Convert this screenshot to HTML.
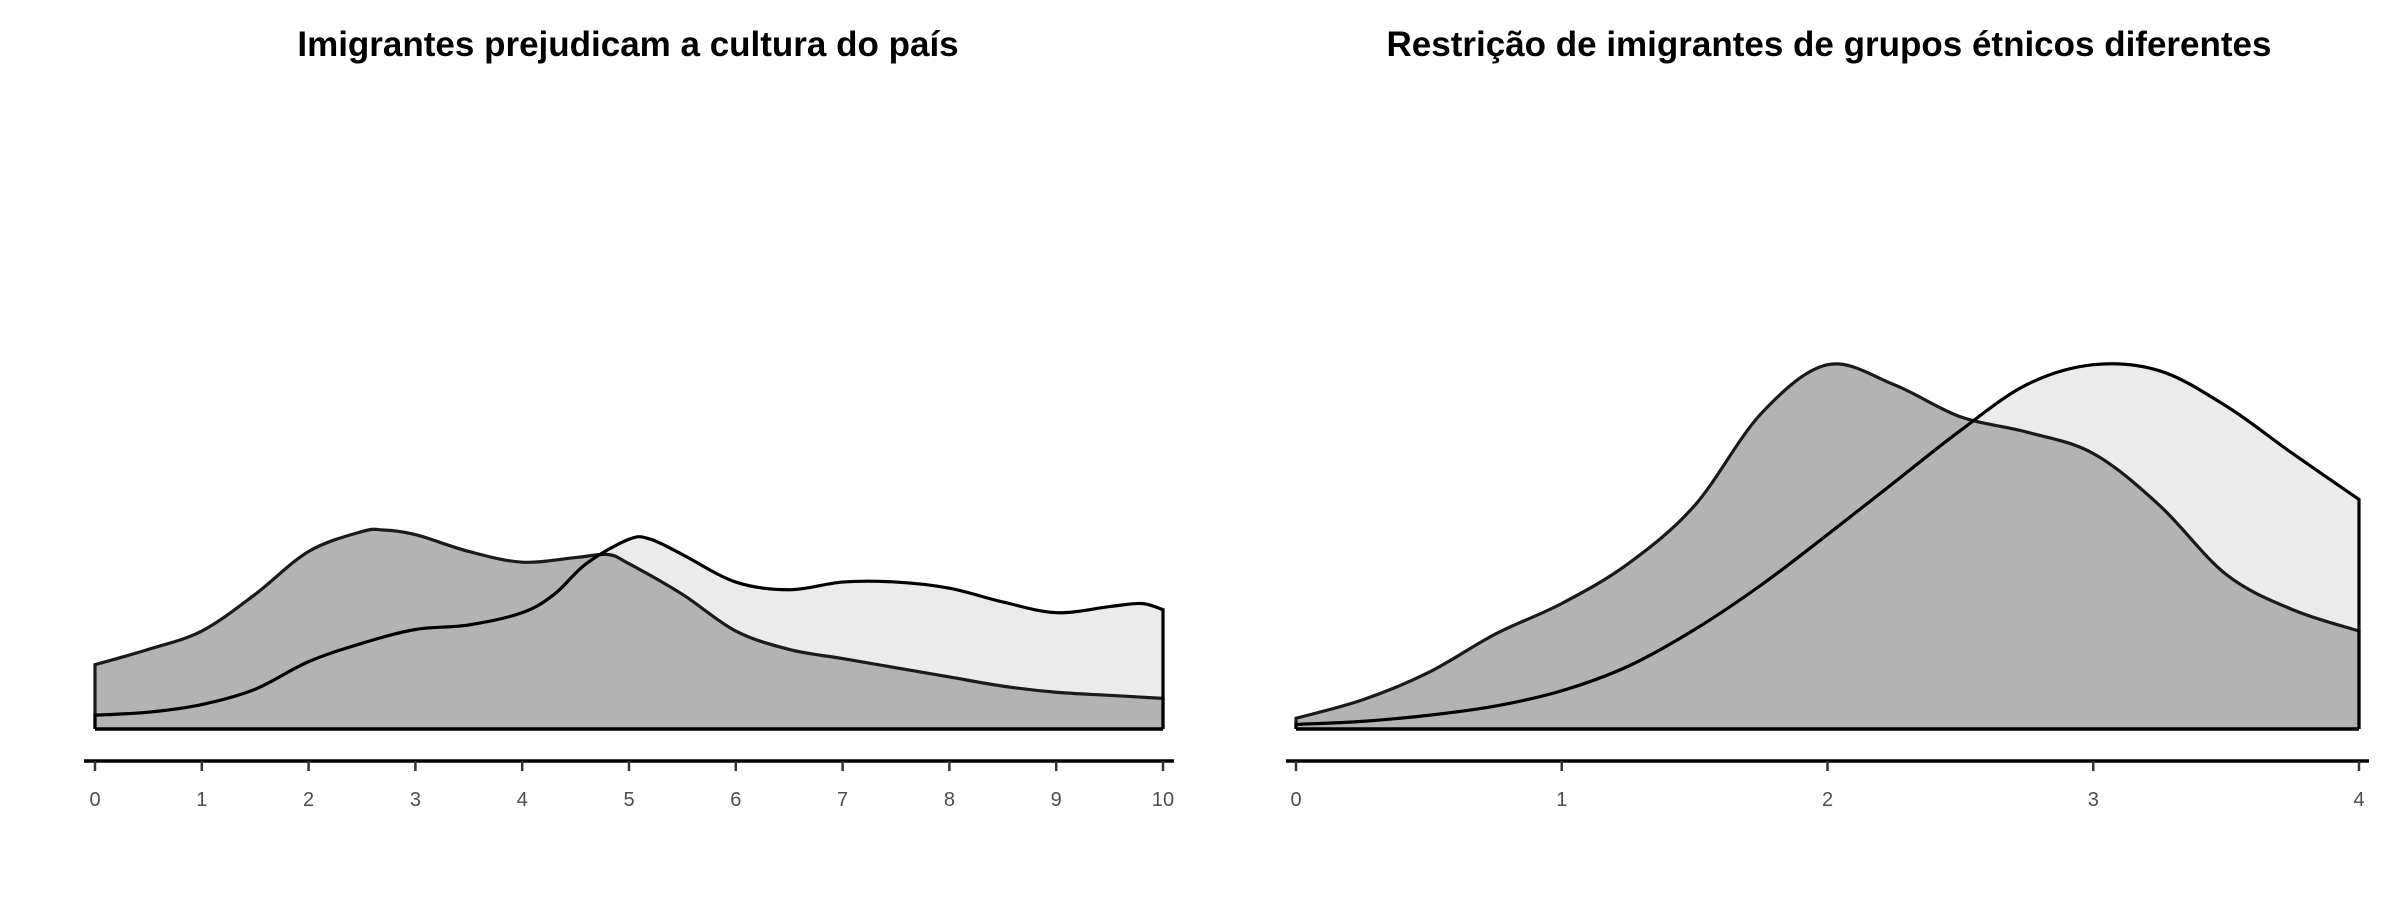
<!DOCTYPE html>
<html><head><meta charset="utf-8"><style>
html,body{margin:0;padding:0;background:#fff;}
svg{display:block;font-family:"Liberation Sans",sans-serif;}
</style></head><body>
<svg id="chart" width="2400" height="900" viewBox="0 0 2400 900">
<text x="628" y="56" text-anchor="middle" font-size="35" font-weight="bold">Imigrantes prejudicam a cultura do país</text>
<text x="1829" y="56" text-anchor="middle" font-size="35" font-weight="bold">Restrição de imigrantes de grupos étnicos diferentes</text>
</svg>
<script>
// Left panel data (x 0..10), heights relative to shared scale (239 = max)
const leftX = [0,0.5,1,1.5,2,2.5,3,3.5,4,4.3,4.6,5,5.2,5.5,6,6.5,7,7.5,8,8.5,9,9.5,9.8,10];
const leftLight = [9,11,16,26,44,56,65,68,76,88,108,124,124,114,96,91,96,96,92,83,76,80,82,78];
const leftDarkX = [0,0.5,1,1.5,2,2.5,2.7,3,3.5,4,4.5,4.8,5,5.5,6,6.5,7,7.5,8,8.5,9,9.5,10];
const leftDark = [42,52,64,88,116,129,130,127,116,109,112,114,108,88,64,52,46,40,34,28,24,22,20];
const leftTicks = [0,1,2,3,4,5,6,7,8,9,10];
// Right panel data (x 0..4)
const rightX = [0,0.25,0.5,0.75,1,1.25,1.5,1.75,2,2.25,2.5,2.75,3,3.25,3.5,3.75,4];
const rightLight = [3,5,9,15,25,41,65,94,127,161,195,225,238,234,211,180,150];
const rightDark = [7,19,37,62,82,108,146,206,238,225,204,194,180,146,101,78,64];
const rightTicks = [0,1,2,3,4];
const yMax = 239;

const svg = document.getElementById('chart');
const NS = 'http://www.w3.org/2000/svg';
const baseY = 729, plotH = 239*1.5306;
function yScale(v){ return baseY - v/yMax*plotH; }

function smoothPath(pts){
  let d = 'M'+pts[0][0]+','+pts[0][1];
  for(let i=0;i<pts.length-1;i++){
    const p0=pts[Math.max(0,i-1)],p1=pts[i],p2=pts[i+1],p3=pts[Math.min(pts.length-1,i+2)];
    const c1x=p1[0]+(p2[0]-p0[0])/6,c1y=p1[1]+(p2[1]-p0[1])/6;
    const c2x=p2[0]-(p3[0]-p1[0])/6,c2y=p2[1]-(p3[1]-p1[1])/6;
    d+=' C'+c1x+','+c1y+' '+c2x+','+c2y+' '+p2[0]+','+p2[1];
  }
  return d;
}
function add(tag, attrs){
  const el=document.createElementNS(NS,tag);
  for(const k in attrs) el.setAttribute(k,attrs[k]);
  svg.appendChild(el); return el;
}
function panel(name, xs1, v1, xs2, v2, ticks, x0, x1, dmin, dmax, axL, axR){
  const xScale = x => x0 + (x-dmin)/(dmax-dmin)*(x1-x0);
  const p1 = xs1.map((x,i)=>[xScale(x),yScale(v1[i])]);
  const p2 = xs2.map((x,i)=>[xScale(x),yScale(v2[i])]);
  const c1 = smoothPath(p1), c2 = smoothPath(p2);
  const area = (c,p)=> c+' L'+p[p.length-1][0]+','+baseY+' L'+p[0][0]+','+baseY+' Z';
  let el;
  el = add('path',{d:area(c1,p1),fill:'#ebebeb',stroke:'none'});
  
  
  el = add('path',{d:area(c2,p2),fill:'#b3b3b3',stroke:'none'});
  
  
  el = add('path',{d:'M'+p2[0][0]+','+baseY+' L'+p2[0][0]+','+p2[0][1]+' '+c2.replace(/^M[^C]*/,'')+' L'+p2[p2.length-1][0]+','+baseY,fill:'none',stroke:'#1a1a1a',"stroke-width":3.2});
  
  
  el = add('path',{d:'M'+p1[0][0]+','+baseY+' L'+p1[0][0]+','+p1[0][1]+' '+c1.replace(/^M[^C]*/,'')+' L'+p1[p1.length-1][0]+','+baseY,fill:'none',stroke:'#000',"stroke-width":3.2});
  
  
  el = add('line',{x1:x0,x2:x1,y1:baseY,y2:baseY,stroke:'#000',"stroke-width":3.5});
  
  
  el = add('line',{x1:axL,x2:axR,y1:761,y2:761,stroke:'#000',"stroke-width":3.5});
  
  
  ticks.forEach(t=>{
    const tx=xScale(t);
    el = add('line',{x1:tx,x2:tx,y1:761,y2:771,stroke:'#333',"stroke-width":2.5});
    
    
    el = add('text',{x:tx,y:806,"text-anchor":"middle","font-size":20,fill:'#4d4d4d'});
    el.textContent = t;
    
    
  });
}
panel('left', leftX, leftLight, leftDarkX, leftDark, leftTicks, 95, 1163, 0, 10, 84, 1174);
panel('right', rightX, rightLight, rightX, rightDark, rightTicks, 1296, 2359, 0, 4, 1286, 2369);
</script>
</body></html>
